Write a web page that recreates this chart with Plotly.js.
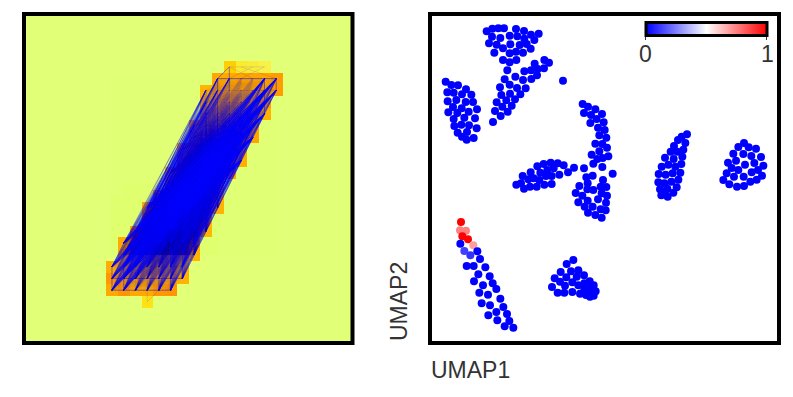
<!DOCTYPE html>
<html><head><meta charset="utf-8">
<script src="https://cdn.plot.ly/plotly-3.0.1.min.js"></script>
<style>html,body{margin:0;padding:0;background:#fff}#c{width:793px;height:397px}</style>
</head><body><div id="c"></div>
<script>
// Left panel: digit pixels, row -> [first column, intensities]
const digitRows = {
  4:[17,[.55,.32,.27,.22]],
  5:[16,[.78,.78,.8,.8,.8,.85]],
  6:[15,[.7,.8,.8,.8,.8,.82,.85]],
  7:[15,[.75,.8,.8,.8,.8,.8]],
  8:[15,[.75,.8,.8,.8,.8,.72]],
  9:[14,[.75,.8,.8,.8,.8,.78]],
  10:[14,[.72,.8,.8,.8,.8,.8]],
  11:[13,[.72,.8,.8,.8,.8,.72]],
  12:[13,[.72,.8,.8,.8,.8,.74]],
  13:[12,[.68,.8,.8,.8,.8,.78]],
  14:[12,[.72,.8,.8,.8,.78]],
  15:[11,[.72,.8,.8,.8,.8,.7]],
  16:[10,[.78,.8,.8,.8,.8,.8,.72]],
  17:[10,[.78,.8,.8,.8,.8,.7]],
  18:[9,[.75,.8,.8,.8,.8,.8,.7]],
  19:[8,[.75,.8,.8,.8,.8,.8,.7]],
  20:[8,[.78,.8,.8,.8,.8,.8,.72]],
  21:[7,[.75,.8,.8,.8,.8,.8,.72]],
  22:[7,[.88,.82,.8,.8,.8,.8,.72]],
  23:[7,[.78,.9,.78,.78,.88,.9]],
  24:[10,[.42]]
};
const heatScale = [[0,'#e2ff78'],[.2,'#f7f24e'],[.4,'#ffe516'],[.6,'#ffc800'],[.8,'#ffa500'],[1,'#ff8400']];
// strongly connected pixels [column,row]
const hubsLow = [[7,21],[7,22],[7,23],[8,21],[8,22],[8,23],[8,19],[8,20],[9,18],[10,16]];
const hubsHigh = [[21,5],[21,6],[20,5],[20,6],[20,7],[20,8],[19,9],[19,10],[18,11],[18,12]];
const sideLow = [[11,23],[12,23],[11,22],[13,21],[13,22],[14,19]];
const sideHigh = [[16,5],[17,5],[16,6],[15,6],[15,7],[14,9]];
// grid strokes visible near the ends of the digit
const gridStrokes = [[7,22,13,22],[7,23,12,23],[16,5,21,5],[7,21,7,23],[8,21,8,23],[11,22,11,23],[12,22,12,23],[13,21,13,22],[16,5,16,6],[17,5,17,6],[20,5,20,8],[21,5,21,6],[7,21,8,19],[17,4,16,5],[17,4,17,5]];
const weakStrokes = [[17,4,20,4],[17,4,19,5],[18,4,21,5],[19,4,17,5],[20,4,18,5],[10,24,10,22],[10,24,11,23]];

// Right panel: UMAP coordinates, one pair of lists per cluster
const fanX=[1.70,1.87,2.05,2.22,2.58,2.82,3.03,3.26,1.86,2.11,2.39,2.62,2.83,3.13,1.77,2.00,2.41,2.69,2.90,3.02,2.19,1.93,2.39,2.58,2.79,2.19,2.39,2.59,3.14,3.43,3.57,3.23,3.42,3.03,2.83,3.21,2.32,2.56,2.24,2.79,3.04,2.10,2.39,2.61,2.87,2.40,2.14,2.71,2.29,2.55,2.00,2.45,2.17,1.95,2.33,2.12,1.89,3.99];
const fanY=[9.35,9.43,9.44,9.44,9.42,9.36,9.25,9.28,9.19,9.15,9.22,9.20,9.13,9.09,8.99,8.95,8.96,8.94,8.97,8.83,8.84,8.71,8.69,8.74,8.71,8.49,8.42,8.49,8.38,8.49,8.41,8.22,8.24,8.18,8.15,8.03,8.18,7.99,7.91,7.89,7.92,7.67,7.75,7.65,7.64,7.48,7.44,7.46,7.28,7.31,7.22,7.12,7.09,6.96,6.94,6.81,6.63,7.87];
const leftX=[.47,.64,.84,.52,.71,1.08,.96,1.24,.53,.79,1.07,1.29,.69,.95,1.41,.55,.82,1.16,.71,1.03,1.35,.73,.94,1.17,1.40,.83,1.11,.96,1.10,1.31];
const leftY=[7.84,7.74,7.73,7.52,7.51,7.61,7.46,7.45,7.25,7.29,7.23,7.23,7.08,7.04,7.01,6.92,6.90,6.94,6.72,6.76,6.74,6.51,6.55,6.53,6.44,6.31,6.33,6.19,6.10,6.15];
const arcX=[4.58,4.74,4.96,4.62,4.83,5.16,5.00,4.81,5.21,5.04,5.24,5.08,5.29,4.96,5.17,5.31,5.08,4.85,5.35,5.18,5.02,4.90,5.17,4.62,4.32,5.48,4.88,4.69,5.19,4.73,4.48,5.12,5.29,4.72,4.90,4.37,5.15,4.57,5.31,4.73,5.04,4.45,5.28,4.64,4.88,5.12,5.27,4.74,4.96,5.15];
const arcY=[7.17,7.09,7.01,6.90,6.84,6.87,6.72,6.60,6.62,6.46,6.39,6.23,6.16,5.98,5.97,5.86,5.75,5.65,5.60,5.55,5.52,5.38,5.28,5.24,5.26,5.08,5.02,4.97,4.89,4.79,4.71,4.69,4.68,4.61,4.59,4.50,4.49,4.42,4.42,4.27,4.31,4.22,4.21,4.09,4.09,4.01,3.98,3.91,3.84,3.76];
const midX=[2.59,2.82,2.78,3.02,3.22,3.41,3.62,3.83,4.01,3.31,3.52,3.71,4.14,3.88,3.65,3.48,3.28,3.11,2.95,2.73,3.00,3.20,3.43,3.65];
const midY=[4.75,4.63,5.01,5.12,5.30,5.37,5.41,5.39,5.33,5.11,5.19,5.24,5.12,5.05,5.01,5.01,4.89,4.94,4.91,4.79,4.69,4.69,4.75,4.77];
const lensX=[7.71,7.55,7.44,7.66,7.32,7.60,7.22,7.42,7.05,7.31,7.57,6.95,7.15,7.36,7.54,6.86,7.07,7.28,7.51,7.45,6.85,7.03,7.24,6.90,7.12,7.40,7.30,6.94,7.13,7.05];
const lensY=[6.26,6.19,6.09,6.00,5.91,5.80,5.74,5.74,5.56,5.52,5.59,5.29,5.35,5.29,5.37,5.07,5.05,5.09,5.11,4.90,4.82,4.79,4.84,4.61,4.63,4.67,4.51,4.43,4.39,4.54];
const roundX=[9.42,9.25,9.56,9.78,9.10,9.40,9.64,9.93,9.18,8.94,9.73,9.05,9.45,10.00,9.25,9.84,9.65,8.90,9.12,9.41,9.96,8.80,9.80,9.61,8.98,9.21,9.42];
const roundY=[6.00,5.88,5.87,5.83,5.68,5.67,5.61,5.58,5.47,5.41,5.40,5.25,5.35,5.32,5.19,5.19,5.12,5.09,4.99,4.99,5.02,4.89,4.90,4.84,4.76,4.69,4.71];
const longX=[.93,.90,1.08,.97,1.14,1.30,.91,1.03,1.21,1.42,1.50,1.10,1.31,1.66,1.45,1.79,1.32,1.59,1.88,1.99,1.48,1.74,2.11,1.55,1.80,2.20,1.99,2.31,1.75,2.02,2.38,2.24,2.50];
const longY=[3.63,3.38,3.37,3.20,3.11,2.93,2.98,2.76,2.63,2.75,2.52,2.31,2.31,2.27,2.06,2.00,1.85,1.73,1.79,1.62,1.51,1.45,1.33,1.19,1.13,1.08,.93,.87,.83,.68,.66,.50,.46];
const longC=[1,.75,.75,1,1,.69,0,.125,.1,0,0,0,0,0,0,0,0,0,0,0,0,0,0,0,0,0,0,0,0,0,0,0,0];
const blobX=[4.30,4.10,3.92,4.23,4.45,3.74,4.09,4.40,4.62,3.90,4.27,4.45,4.79,4.63,3.66,4.05,4.91,3.83,4.03,4.27,4.50,4.63,4.78,4.97,4.68,4.80,4.91,4.73,4.85];
const blobY=[2.49,2.37,2.13,2.15,2.18,1.94,1.97,1.99,2.03,1.84,1.82,1.73,1.85,1.79,1.68,1.72,1.73,1.51,1.51,1.53,1.48,1.62,1.67,1.55,1.44,1.39,1.42,1.54,1.54];
const clusters = [[fanX,fanY],[leftX,leftY],[arcX,arcY],[midX,midY],[lensX,lensY],[roundX,roundY],[longX,longY,longC],[blobX,blobY]];
const bwr = [[0,'#0000ff'],[.5,'#ffffff'],[1,'#ff0000']];
const W=793,H=397;
const tickLabels=[0,1];

// assemble the image and the node list
const z=[];for(let r=0;r<28;r++)z.push(new Array(28).fill(0));
const nodes=[];
for(const r in digitRows){const [c0,vals]=digitRows[r];vals.forEach((v,i)=>{z[r][c0+i]=v;nodes.push([c0+i,+r]);});}
const traces=[{type:'heatmap',z:z,xaxis:'x',yaxis:'y',colorscale:heatScale,zmin:0,zmax:1,showscale:false,hoverinfo:'skip'}];
function segs(list,width,op){const x=[],y=[];list.forEach(s=>{x.push(s[0],s[2],null);y.push(s[1],s[3],null);});
  return {type:'scatter',mode:'lines',x:x,y:y,xaxis:'x',yaxis:'y',line:{color:'#0000ff',width:width,simplify:false},opacity:op,hoverinfo:'skip',showlegend:false,connectgaps:false};}
// every digit pixel linked to the others, one faint bundle per source pixel
nodes.forEach((a,i)=>{
  if(a[1]==4||a[1]==24)return;
  const near=[],far=[];
  for(let j=i+1;j<nodes.length;j++){const b=nodes[j];if(b[1]==4||b[1]==24)continue;
    (b[1]-a[1]>=7?far:near).push([a[0],a[1],b[0],b[1]]);}
  if(near.length)traces.push(segs(near,0.25,0.07));
  if(far.length)traces.push(segs(far,0.3,0.19));
});
const cross=(A,B,w,o)=>A.forEach(a=>traces.push(segs(B.map(b=>[a[0],a[1],b[0],b[1]]),w,o)));
cross(sideLow,hubsHigh,0.6,0.4);
cross(hubsLow,sideHigh,0.6,0.4);
cross(hubsLow,hubsHigh,0.9,0.7);
traces.push(segs(gridStrokes,0.8,0.55));
traces.push(segs(weakStrokes,0.5,0.25));
clusters.forEach(cl=>{
  traces.push({type:'scatter',mode:'markers',x:cl[0],y:cl[1],xaxis:'x2',yaxis:'y2',showlegend:false,hoverinfo:'skip',
    marker:{size:8,color:cl[2]||cl[0].map(()=>0),coloraxis:'coloraxis',line:{width:0}}});
});
const frame=(x,y)=>({type:'rect',xref:x+' domain',yref:y+' domain',x0:0,x1:1,y0:0,y1:1,line:{color:'#000',width:4},layer:'above'});
const scaleLabel=(v,px)=>({text:String(v),xref:'paper',yref:'paper',x:px/W,y:1-53.5/H,xanchor:'center',yanchor:'middle',showarrow:false,font:{size:23,color:'#333'},borderpad:0});
const layout={width:W,height:H,margin:{l:0,r:0,t:0,b:0},paper_bgcolor:'#fff',plot_bgcolor:'#fff',showlegend:false,
  font:{family:'"Liberation Sans",Arial,sans-serif',color:'#333'},
  xaxis:{domain:[24/W,352.5/W],range:[-.5,27.5],visible:false,fixedrange:true},
  yaxis:{domain:[1-343/H,1-14/H],range:[27.5,-.5],visible:false,fixedrange:true},
  xaxis2:{domain:[430/W,779/W],range:[0,10.47],visible:false,fixedrange:true},
  yaxis2:{domain:[1-343/H,1-14/H],range:[0,9.87],visible:false,fixedrange:true},
  coloraxis:{cmin:0,cmax:1,colorscale:bwr,colorbar:{orientation:'h',x:706/W,xanchor:'center',y:1-32/H,yanchor:'middle',
    lenmode:'pixels',len:121,thicknessmode:'pixels',thickness:13,xpad:0,ypad:0,outlinewidth:3,outlinecolor:'#000',borderwidth:0,
    tickmode:'array',tickvals:tickLabels,showticklabels:false,ticks:'outside',ticklen:3,tickwidth:1,tickcolor:'#333'}},
  shapes:[frame('x','y'),frame('x2','y2')],
  annotations:[
    {text:'UMAP1',xref:'paper',yref:'paper',x:430/W,y:1-370/H,xanchor:'left',yanchor:'middle',showarrow:false,font:{size:23,color:'#333'},borderpad:0},
    {text:'UMAP2',xref:'paper',yref:'paper',x:399/W,y:1-302/H,xanchor:'center',yanchor:'middle',textangle:-90,showarrow:false,font:{size:23,color:'#333'},borderpad:0},
    scaleLabel(tickLabels[0],645.3),scaleLabel(tickLabels[1],767)
  ]};
Plotly.newPlot('c',traces,layout,{displayModeBar:false,staticPlot:true});
</script></body></html>
